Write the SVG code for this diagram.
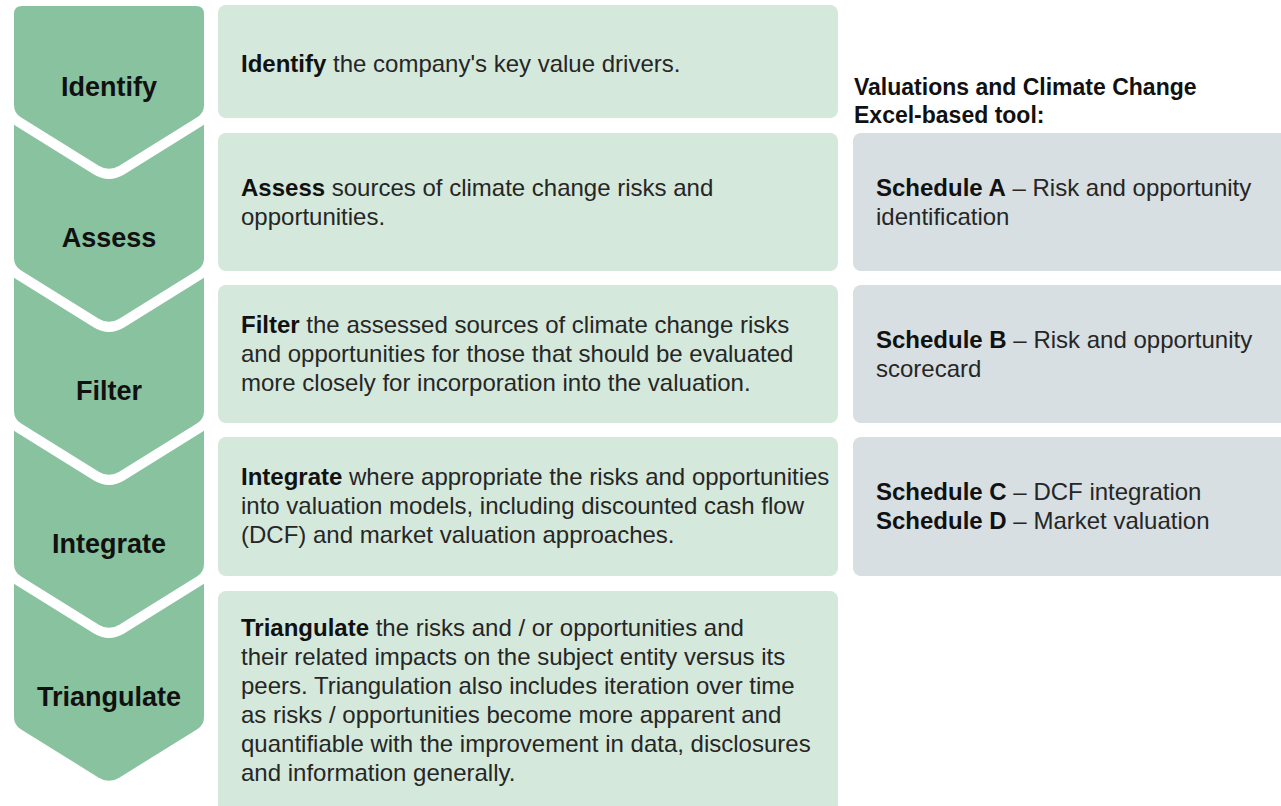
<svg xmlns="http://www.w3.org/2000/svg" width="1281" height="806" viewBox="0 0 1281 806">
<style>
.chev{fill:#88c29f;stroke:#ffffff;stroke-width:20;paint-order:stroke;stroke-linejoin:round}
.box{fill:#d5e8dc}
.gbox{fill:#d7dfe2}
.lbl{font-family:"Liberation Sans",Arial,sans-serif;font-weight:bold;font-size:27px;fill:#111;text-anchor:middle}
.txt{font-family:"Liberation Sans",Arial,sans-serif;font-size:24px;fill:#262626}
.b{font-weight:bold;fill:#111}
.hd{font-family:"Liberation Sans",Arial,sans-serif;font-weight:bold;font-size:23px;fill:#111}
</style>
<rect width="1281" height="806" fill="#ffffff"/>
<g id="chevrons">
<g id="chev-triangulate">
<path class="chev" d="M14,552 H204 V717 Q204,725 197.2,729.2 L119.2,777.7 Q109,784 98.8,777.7 L20.8,729.2 Q14,725 14,717 Z"/>
<text class="lbl" x="109" y="706">Triangulate</text>
</g>
<g id="chev-integrate">
<path class="chev" d="M14,399 H204 V564 Q204,572 197.2,576.2 L119.2,624.7 Q109,631 98.8,624.7 L20.8,576.2 Q14,572 14,564 Z"/>
<text class="lbl" x="109" y="553">Integrate</text>
</g>
<g id="chev-filter">
<path class="chev" d="M14,246 H204 V411 Q204,419 197.2,423.2 L119.2,471.7 Q109,478 98.8,471.7 L20.8,423.2 Q14,419 14,411 Z"/>
<text class="lbl" x="109" y="400">Filter</text>
</g>
<g id="chev-assess">
<path class="chev" d="M14,93 H204 V258 Q204,266 197.2,270.2 L119.2,318.7 Q109,325 98.8,318.7 L20.8,270.2 Q14,266 14,258 Z"/>
<text class="lbl" x="109" y="247">Assess</text>
</g>
<g id="chev-identify">
<path class="chev" d="M14,14 Q14,6 22,6 H196 Q204,6 204,14 V105 Q204,113 197.2,117.2 L119.2,165.7 Q109,172 98.8,165.7 L20.8,117.2 Q14,113 14,105 Z"/>
<text class="lbl" x="109" y="96">Identify</text>
</g>
</g>
<g id="connectors"/>
<g id="step-identify">
<rect class="box" x="218" y="5" width="620" height="113" rx="8"/>
<text class="txt" x="241" y="72"><tspan class="b">Identify</tspan> the company's key value drivers.</text>
</g>
<g id="step-assess">
<rect class="box" x="218" y="133" width="620" height="138" rx="8"/>
<text class="txt" x="241" y="196"><tspan class="b">Assess</tspan> sources of climate change risks and</text>
<text class="txt" x="241" y="225">opportunities.</text>
</g>
<g id="step-filter">
<rect class="box" x="218" y="285" width="620" height="138" rx="8"/>
<text class="txt" x="241" y="333"><tspan class="b">Filter</tspan> the assessed sources of climate change risks</text>
<text class="txt" x="241" y="362">and opportunities for those that should be evaluated</text>
<text class="txt" x="241" y="391">more closely for incorporation into the valuation.</text>
</g>
<g id="step-integrate">
<rect class="box" x="218" y="437" width="620" height="139" rx="8"/>
<text class="txt" x="241" y="485"><tspan class="b">Integrate</tspan> where appropriate the risks and opportunities</text>
<text class="txt" x="241" y="514">into valuation models, including discounted cash flow</text>
<text class="txt" x="241" y="543">(DCF) and market valuation approaches.</text>
</g>
<g id="step-triangulate">
<rect class="box" x="218" y="591" width="620" height="225" rx="8"/>
<text class="txt" x="241" y="636"><tspan class="b">Triangulate</tspan> the risks and / or opportunities and</text>
<text class="txt" x="241" y="665">their related impacts on the subject entity versus its</text>
<text class="txt" x="241" y="694">peers. Triangulation also includes iteration over time</text>
<text class="txt" x="241" y="723">as risks / opportunities become more apparent and</text>
<text class="txt" x="241" y="752">quantifiable with the improvement in data, disclosures</text>
<text class="txt" x="241" y="781">and information generally.</text>
</g>
<g id="tool-heading">
<text class="hd" x="854" y="95">Valuations and Climate Change</text>
<text class="hd" x="854" y="123">Excel-based tool:</text>
</g>
<g id="schedule-a">
<rect class="gbox" x="853" y="133" width="440" height="138" rx="8"/>
<text class="txt" x="876" y="196"><tspan class="b">Schedule A</tspan> – Risk and opportunity</text>
<text class="txt" x="876" y="225">identification</text>
</g>
<g id="schedule-b">
<rect class="gbox" x="853" y="285" width="440" height="138" rx="8"/>
<text class="txt" x="876" y="348"><tspan class="b">Schedule B</tspan> – Risk and opportunity</text>
<text class="txt" x="876" y="377">scorecard</text>
</g>
<g id="schedule-cd">
<rect class="gbox" x="853" y="437" width="440" height="139" rx="8"/>
<text class="txt" x="876" y="500"><tspan class="b">Schedule C</tspan> – DCF integration</text>
<text class="txt" x="876" y="529"><tspan class="b">Schedule D</tspan> – Market valuation</text>
</g>
</svg>
